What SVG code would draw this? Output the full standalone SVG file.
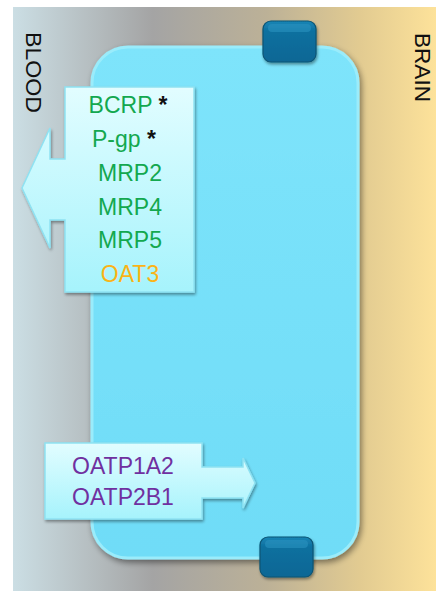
<svg xmlns="http://www.w3.org/2000/svg" width="436" height="591" viewBox="0 0 436 591">
<defs>
<linearGradient id="bg" x1="13" y1="0" x2="436" y2="0" gradientUnits="userSpaceOnUse">
<stop offset="0" stop-color="#cbdee4"/>
<stop offset="0.33" stop-color="#a4a4a4"/>
<stop offset="0.6" stop-color="#bcb197"/>
<stop offset="0.82" stop-color="#e2cb91"/>
<stop offset="1" stop-color="#fde29a"/>
</linearGradient>
<linearGradient id="cellFill" x1="0" y1="0" x2="0" y2="1">
<stop offset="0" stop-color="#7ee4fb"/>
<stop offset="1" stop-color="#6fdcf7"/>
</linearGradient>
<linearGradient id="boxFill" x1="0" y1="0" x2="0" y2="1">
<stop offset="0" stop-color="#e2fdff"/>
<stop offset="1" stop-color="#a6f3fc"/>
</linearGradient>
<linearGradient id="trFill" x1="0" y1="0" x2="0" y2="1">
<stop offset="0" stop-color="#1a86b6"/>
<stop offset="0.25" stop-color="#0e709f"/>
<stop offset="1" stop-color="#0a6795"/>
</linearGradient>
<filter id="shadow" x="-10%" y="-10%" width="125%" height="125%">
<feGaussianBlur in="SourceAlpha" stdDeviation="3"/>
<feOffset dx="2" dy="3" result="b"/>
<feComponentTransfer><feFuncA type="linear" slope="0.45"/></feComponentTransfer>
<feMerge><feMergeNode/><feMergeNode in="SourceGraphic"/></feMerge>
</filter>
<filter id="shadowS" x="-10%" y="-10%" width="125%" height="125%">
<feGaussianBlur in="SourceAlpha" stdDeviation="1.5"/>
<feOffset dx="1" dy="2" result="b"/>
<feComponentTransfer><feFuncA type="linear" slope="0.4"/></feComponentTransfer>
<feMerge><feMergeNode/><feMergeNode in="SourceGraphic"/></feMerge>
</filter>
</defs>
<style>
.side{font-family:"Liberation Sans",Arial,sans-serif;font-size:22px;fill:#111}
.lbl{font-family:"Liberation Sans",Arial,sans-serif;font-size:23px;text-anchor:middle}
.g{fill:#13a84f}
.o{fill:#fbb316}
.p{fill:#7030a0}
.ast{fill:#111;font-weight:bold}
.tr{fill:url(#trFill);stroke:#0a5474;stroke-width:1.2}
.box{fill:url(#boxFill);stroke:#8fe2f2;stroke-width:1.5}
</style>
<g id="background">
<rect x="13" y="7" width="423" height="584" fill="url(#bg)"/>
<text class="side" transform="translate(26,32) rotate(90)" textLength="81" lengthAdjust="spacingAndGlyphs">BLOOD</text>
<text class="side" transform="translate(415,33) rotate(90)" textLength="69" lengthAdjust="spacingAndGlyphs">BRAIN</text>
</g>
<g id="cell">
<rect x="92" y="47" width="266" height="511" rx="36" fill="url(#cellFill)" stroke="#9aecfb" stroke-width="3" filter="url(#shadow)"/>
</g>
<g id="transporter-top">
<rect class="tr" x="263" y="21" width="53" height="41" rx="8" filter="url(#shadowS)"/>
<rect x="268" y="24" width="43" height="8" rx="4" fill="#2a92c0" opacity="0.6"/>
</g>
<g id="transporter-bottom">
<rect class="tr" x="260" y="537" width="53" height="40" rx="8" filter="url(#shadowS)"/>
<rect x="265" y="540" width="43" height="8" rx="4" fill="#2a92c0" opacity="0.6"/>
</g>
<g id="efflux">
<path class="box" d="M65,87 H194 V292 H65 V220 H50 V248 L22,188 L50,128 V159 H65 Z" filter="url(#shadowS)"/>
<text class="lbl" x="128" y="113"><tspan class="g">BCRP </tspan><tspan class="ast">*</tspan></text>
<text class="lbl" x="124" y="147"><tspan class="g">P-gp </tspan><tspan class="ast">*</tspan></text>
<text class="lbl g" x="130" y="181">MRP2</text>
<text class="lbl g" x="130" y="215">MRP4</text>
<text class="lbl g" x="130" y="248">MRP5</text>
<text class="lbl o" x="130" y="282">OAT3</text>
</g>
<g id="influx">
<path class="box" d="M45,443 H202 V467 H243 V458 L255,483 L243,508 V498 H202 V519 H45 Z" filter="url(#shadowS)"/>
<text class="lbl p" x="123" y="474">OATP1A2</text>
<text class="lbl p" x="123" y="505">OATP2B1</text>
</g>
</svg>
